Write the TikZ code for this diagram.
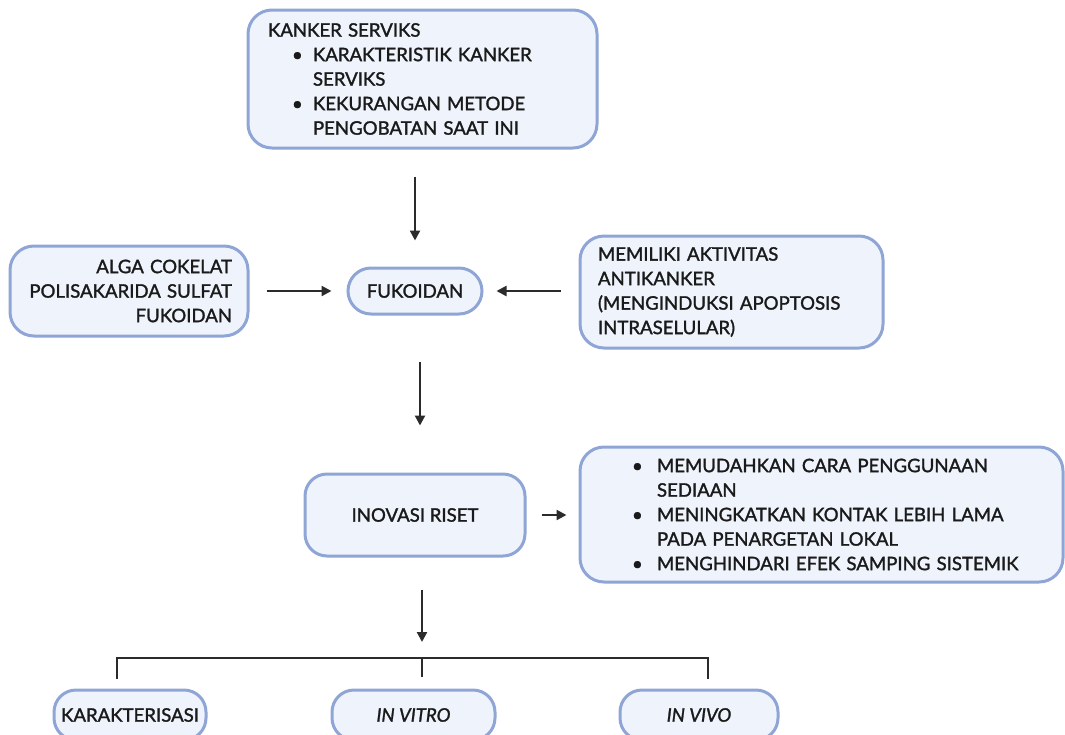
\documentclass[tikz,border=0pt]{standalone}
\usepackage{fontspec}
\setmainfont{Lato}[FakeBold=1.5]
\usetikzlibrary{arrows.meta}
\definecolor{boxline}{HTML}{8FA5D6}
\definecolor{boxfill}{HTML}{EEF3FC}
\definecolor{arrowcol}{HTML}{2B2B2B}
\definecolor{textcol}{HTML}{1A1A1A}
\newcommand{\bl}{\hspace*{24pt}\makebox[21pt][l]{\textbullet}}
\newcommand{\cl}{\hspace*{45pt}}
\newcommand{\blb}{\hspace*{32pt}\makebox[25pt][l]{\textbullet}}
\newcommand{\clb}{\hspace*{57pt}}
\begin{document}
\begin{tikzpicture}[x=1pt,y=-1pt,
  box/.style={draw=boxline, fill=boxfill, line width=3pt, rounded corners=24pt,
    text=textcol, font=\fontsize{18.6}{24.5}\selectfont, inner ysep=0pt},
  pill/.style={box, rounded corners=22pt, align=center},
  arr/.style={-{Triangle[width=10pt,length=10pt]}, line width=2.2pt, draw=arrowcol},
  line/.style={line width=2.2pt, draw=arrowcol}]
\useasboundingbox (0,0) rectangle (1065,734);
\clip (0,0) rectangle (1065,734);
% boxes
\node[box, text width=309pt, inner xsep=20pt, minimum height=138pt, align=left] (top) at (422.5,79)
  {KANKER SERVIKS\\
   \bl KARAKTERISTIK KANKER\\
   \cl SERVIKS\\
   \bl KEKURANGAN METODE\\
   \cl PENGOBATAN SAAT INI};
\node[box, text width=206pt, inner xsep=16pt, minimum height=90pt, align=right] (alga) at (129,291)
  {ALGA COKELAT\\ POLISAKARIDA SULFAT\\ FUKOIDAN};
\node[pill, minimum width=134pt, minimum height=46pt, inner xsep=0pt, rounded corners=23pt] (fuk) at (415,291) {FUKOIDAN};
\node[box, text width=267pt, inner xsep=18pt, minimum height=112pt, align=left] (akt) at (731.5,292)
  {MEMILIKI AKTIVITAS\\ ANTIKANKER\\ (MENGINDUKSI APOPTOSIS\\ INTRASELULAR)};
\node[pill, minimum width=220pt, minimum height=82pt, inner xsep=0pt] (inov) at (415,515) {INOVASI RISET};
\node[box, text width=443pt, inner xsep=20pt, minimum height=135pt, align=left] (keu) at (821.5,514.5)
  {\blb MEMUDAHKAN CARA PENGGUNAAN\\
   \clb SEDIAAN\\
   \blb MENINGKATKAN KONTAK LEBIH LAMA\\
   \clb PADA PENARGETAN LOKAL\\
   \blb MENGHINDARI EFEK SAMPING SISTEMIK};
\node[pill, minimum width=152pt, minimum height=50pt, inner xsep=0pt] (kar) at (130,715) {KARAKTERISASI};
\node[pill, minimum width=163pt, minimum height=50pt, inner xsep=0pt] (vit) at (413.5,715) {\itshape IN VITRO};
\node[pill, minimum width=158pt, minimum height=50pt, inner xsep=0pt] (viv) at (699,715) {\itshape IN VIVO};
% bracket coordinates
\coordinate (br) at (422,658);
\coordinate (brL) at (117,658);
\coordinate (brR) at (708,658);
% arrows
\draw[arr, shorten <=27pt, shorten >=26pt] (top.south -| fuk.north) -- (fuk.north);
\draw[arr, shorten <=17pt, shorten >=15pt] (alga.east |- fuk.west) -- (fuk.west);
\draw[arr, shorten <=18pt, shorten >=13pt] (akt.west |- fuk.east) -- (fuk.east);
\draw[arr, shorten <=46pt, shorten >=47pt] ([xshift=5pt]fuk.south) -- ([xshift=5pt]inov.north);
\draw[arr, shorten <=15pt, shorten >=12pt] (inov.east) -- (inov.east -| keu.west);
\draw[arr, shorten <=32pt, shorten >=16pt] (inov.south -| br) -- (br);
\draw[line] ([yshift=10pt]kar.north -| brL) -- (brL) -- (brR) -- ([yshift=10pt]viv.north -| brR);
\draw[line] (br) -- ([yshift=12pt]vit.north -| br);
\end{tikzpicture}
\end{document}
